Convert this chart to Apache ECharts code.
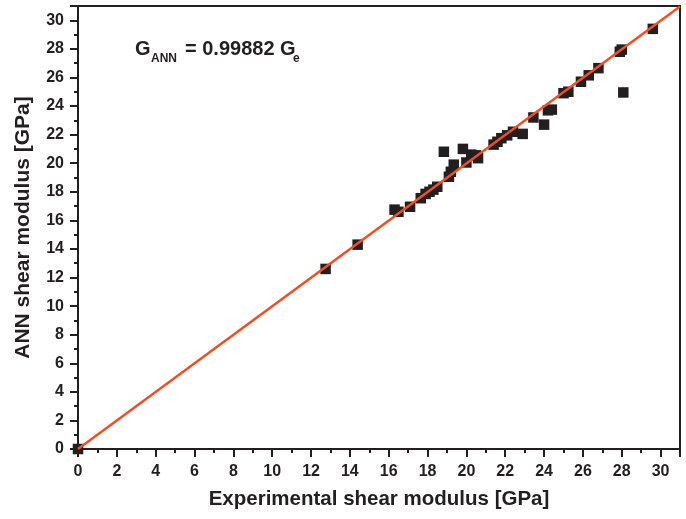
<!DOCTYPE html>
<html>
<head>
<meta charset="utf-8">
<script src="https://cdn.jsdelivr.net/npm/echarts@6/dist/echarts.min.js"></script>
<style>
  html, body { margin: 0; padding: 0; background: #fff; }
  #chart { width: 686px; height: 519px; }
</style>
</head>
<body>
<div id="chart"></div>
<script>
// experimental vs ANN shear modulus [GPa]
const expG = [0, 12.75, 14.4, 16.3, 16.5, 17.1, 17.65, 17.9, 18.1, 18.3, 18.5, 18.84, 19.1, 19.2, 19.35,
  19.82, 20.0, 20.25, 20.5, 20.6, 21.4, 21.6, 21.8, 22.1, 22.4, 22.9, 23.45, 24.0, 24.2, 24.4,
  25.0, 25.25, 25.9, 26.3, 26.8, 27.9, 28.0, 28.08, 29.6];
const annG = [0, 12.6, 14.3, 16.75, 16.6, 16.95, 17.55, 17.85, 18.0, 18.15, 18.35, 20.8, 19.05, 19.4, 19.9,
  21.0, 20.05, 20.6, 20.55, 20.35, 21.3, 21.5, 21.75, 21.95, 22.2, 22.05, 23.2, 22.7, 23.7, 23.75,
  24.9, 25.0, 25.7, 26.15, 26.65, 27.8, 27.95, 24.95, 29.4];
const fitX = [0, 31];
const fitY = [0, 30.963];  // G_ANN = 0.99882 G_e
const ticksMax = 31;

const chart = echarts.init(document.getElementById('chart'));
const font = "'Liberation Sans', Arial, sans-serif";

const option = {
  animation: false,
  grid: {
    left: 78, right: 6, top: 6, bottom: 70,
    show: true, borderColor: '#231f20', borderWidth: 2, backgroundColor: '#fff'
  },
  xAxis: {
    type: 'value', min: 0, max: ticksMax, interval: 2,
    name: 'Experimental shear modulus [GPa]',
    nameLocation: 'middle', nameGap: 40,
    nameTextStyle: { fontFamily: font, fontWeight: 'bold', fontSize: 20.5, color: '#231f20' },
    axisLine: { show: true, lineStyle: { color: '#231f20', width: 2 } },
    axisTick: { show: true, length: 8, lineStyle: { color: '#231f20', width: 2 } },
    minorTick: { show: true, splitNumber: 2, length: 4, lineStyle: { color: '#231f20', width: 2 } },
    splitLine: { show: false },
    axisLabel: { fontFamily: font, fontWeight: 'bold', fontSize: 16, color: '#231f20', margin: 15,
      formatter: v => (v > 30 ? '' : v) }
  },
  yAxis: {
    type: 'value', min: 0, max: ticksMax, interval: 2,
    name: 'ANN shear modulus [GPa]',
    nameLocation: 'middle', nameGap: 44,
    nameTextStyle: { fontFamily: font, fontWeight: 'bold', fontSize: 21, color: '#231f20' },
    axisLine: { show: true, lineStyle: { color: '#231f20', width: 2 } },
    axisTick: { show: true, length: 8, lineStyle: { color: '#231f20', width: 2 } },
    minorTick: { show: true, splitNumber: 2, length: 4, lineStyle: { color: '#231f20', width: 2 } },
    splitLine: { show: false },
    axisLabel: { fontFamily: font, fontWeight: 'bold', fontSize: 16, color: '#231f20', margin: 14,
      formatter: v => (v > 30 ? '' : v) }
  },
  series: [
    {
      type: 'line',
      data: fitX.map((x, i) => [x, fitY[i]]),
      showSymbol: false,
      lineStyle: { color: '#f04f23', width: 2.5 },
      z: 3
    },
    {
      type: 'scatter',
      data: expG.map((x, i) => [x, annG[i]]),
      symbol: 'rect',
      symbolSize: 10.5,
      itemStyle: { color: '#231f20', opacity: 1 },
      z: 2
    }
  ],
  graphic: [
    { type: 'text', left: 135, top: 39, style: { text: 'G', font: 'bold 20px ' + font, fill: '#231f20' } },
    { type: 'text', left: 151, top: 53, style: { text: 'ANN', font: 'bold 12px ' + font, fill: '#231f20' } },
    { type: 'text', left: 185, top: 39, style: { text: '= 0.99882 G', font: 'bold 20px ' + font, fill: '#231f20' } },
    { type: 'text', left: 293, top: 53, style: { text: 'e', font: 'bold 12px ' + font, fill: '#231f20' } }
  ]
};
chart.setOption(option);
</script>
</body>
</html>
